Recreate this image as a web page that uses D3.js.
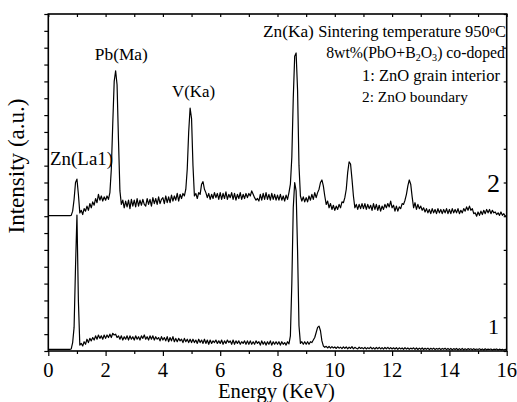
<!DOCTYPE html>
<html>
<head>
<meta charset="utf-8">
<script src="https://cdn.jsdelivr.net/npm/d3@7"></script>
<style>
  body { margin: 0; background: #fff; }
</style>
</head>
<body>
<div class="chart"></div>
<script>
var width = 517, height = 402;
var margin = { left: 48.3, right: 10.3, top: 14, bottom: 51 };
var serif = "'Liberation Serif', 'Times New Roman', Times, serif";

// energy grid of the spectra, 0.05 keV per channel
var energy = d3.range(0, 321).map(function(i) { return +(i * 0.05).toFixed(2); });

// spectrum 2: ZnO boundary (drawn with +8 offset)
var boundary = [
  8.03,8.03,8.03,8.03,8.03,8.03,8.03,8.03,8.03,8.03,8.03,8.03,8.03,8.03,8.03,8.03,8.05,8.3,9.0,10.0,
  10.2,9.3,8.2,8.35,8.1,8.45,8.3,8.6,8.35,8.75,8.5,8.85,8.65,9.05,8.8,9.3,8.95,9.2,8.9,9.15,
  8.95,9.2,9.0,9.4,10.8,13.5,16.0,16.63,15.8,12.5,9.5,8.7,8.95,8.5,8.9,8.55,8.95,8.45,9.0,8.6,
  8.95,8.55,9.05,8.6,8.95,8.65,9.0,8.7,8.6,9.05,8.7,9.0,8.6,9.1,8.75,9.05,8.7,9.15,8.75,9.0,
  9.1,8.75,9.2,8.8,9.15,8.8,9.25,8.9,9.2,8.95,9.35,8.9,9.3,9.05,9.35,9.2,9.6,10.8,13.0,14.42,
  13.8,11.0,9.2,9.35,9.05,9.4,9.3,9.9,10.05,9.6,9.4,9.1,9.35,9.0,9.3,9.05,9.4,9.1,9.35,9.0,
  9.4,9.0,9.35,9.05,9.45,9.0,9.3,9.1,9.4,9.0,9.35,8.95,9.3,9.05,9.4,9.0,9.3,9.05,9.35,9.1,
  9.35,9.2,9.5,9.3,9.1,8.95,9.05,8.9,9.3,8.95,9.35,9.0,9.4,9.0,9.3,8.95,9.35,9.0,9.3,8.95,
  9.25,8.95,9.3,8.95,9.2,8.9,9.25,9.0,9.4,9.9,11.5,15.0,17.5,17.69,15.5,11.0,9.2,8.9,9.15,8.85,
  9.1,8.85,9.2,8.95,9.3,9.0,9.4,9.1,9.4,9.6,10.0,10.15,9.8,9.2,8.7,8.9,8.5,8.75,8.4,8.65,
  8.35,8.6,8.4,8.7,8.5,8.85,8.8,9.1,9.6,10.6,11.23,11.1,10.2,9.2,8.5,8.7,8.4,8.7,8.45,8.75,
  8.45,8.75,8.4,8.7,8.45,8.65,8.35,8.75,8.4,8.7,8.35,8.65,8.3,8.6,8.4,8.7,8.5,8.75,8.55,8.9,
  8.5,8.65,8.3,8.6,8.3,8.55,8.45,8.75,8.7,8.95,9.3,9.8,10.15,9.9,9.15,8.5,8.8,8.4,8.7,8.45,
  8.6,8.35,8.5,8.25,8.45,8.2,8.4,8.15,8.45,8.2,8.4,8.15,8.45,8.2,8.4,8.15,8.4,8.2,8.45,8.15,
  8.4,8.15,8.45,8.2,8.4,8.2,8.45,8.15,8.35,8.2,8.45,8.3,8.55,8.35,8.6,8.35,8.45,8.15,8.2,8.0,
  8.25,8.05,8.3,8.1,8.35,8.15,8.4,8.2,8.4,8.15,8.35,8.2,8.25,8.1,8.2,8.05,8.25,8.05,8.15,8.0,
  8.05
];

// spectrum 1: ZnO grain interior
var interior = [
  0.1,0.1,0.1,0.1,0.1,0.1,0.1,0.1,0.1,0.1,0.1,0.1,0.1,0.1,0.1,0.1,0.12,0.5,1.4,5.0,
  8.07,3.0,0.35,0.45,0.3,0.55,0.4,0.7,0.5,0.75,0.6,0.8,0.65,0.9,0.7,0.95,0.75,0.9,0.7,0.95,
  0.75,0.95,0.8,1.0,0.8,1.05,0.95,1.0,0.8,0.9,0.7,0.9,0.65,0.85,0.7,0.9,0.65,0.9,0.7,0.85,
  0.65,0.9,0.7,0.85,0.65,0.9,0.75,0.95,0.7,0.85,0.65,0.9,0.7,0.9,0.65,0.85,0.7,0.8,0.6,0.85,
  0.65,0.8,0.6,0.85,0.55,0.8,0.6,0.85,0.55,0.75,0.55,0.75,0.6,0.7,0.5,0.75,0.55,0.7,0.5,0.7,
  0.5,0.7,0.5,0.65,0.45,0.7,0.5,0.65,0.45,0.7,0.45,0.65,0.4,0.65,0.45,0.6,0.5,0.65,0.45,0.6,
  0.45,0.65,0.4,0.6,0.45,0.65,0.5,0.6,0.4,0.65,0.4,0.6,0.45,0.6,0.4,0.55,0.45,0.6,0.4,0.6,
  0.4,0.6,0.4,0.55,0.4,0.6,0.45,0.55,0.35,0.6,0.4,0.55,0.35,0.55,0.4,0.6,0.35,0.55,0.4,0.55,
  0.4,0.55,0.35,0.55,0.4,0.5,0.35,0.55,0.42,0.9,4.0,8.5,10.0,9.5,6.0,1.5,0.45,0.55,0.4,0.55,
  0.4,0.55,0.4,0.55,0.5,0.65,0.8,1.1,1.4,1.48,1.2,0.6,0.3,0.22,0.28,0.18,0.27,0.17,0.26,0.18,
  0.24,0.15,0.25,0.17,0.23,0.14,0.25,0.16,0.24,0.13,0.23,0.15,0.26,0.13,0.22,0.16,0.12,0.23,0.15,0.2,
  0.13,0.22,0.12,0.2,0.14,0.23,0.12,0.2,0.11,0.21,0.13,0.22,0.12,0.2,0.11,0.21,0.13,0.22,0.12,0.2,
  0.12,0.19,0.11,0.2,0.1,0.19,0.12,0.18,0.1,0.2,0.11,0.18,0.1,0.17,0.12,0.19,0.1,0.18,0.09,0.17,
  0.1,0.18,0.09,0.16,0.1,0.17,0.08,0.16,0.1,0.17,0.09,0.15,0.1,0.16,0.08,0.15,0.1,0.16,0.08,0.15,
  0.08,0.15,0.07,0.14,0.09,0.15,0.07,0.14,0.08,0.15,0.07,0.13,0.08,0.14,0.09,0.13,0.07,0.14,0.08,0.12,
  0.09,0.13,0.07,0.12,0.06,0.13,0.07,0.11,0.09,0.12,0.06,0.11,0.08,0.12,0.06,0.11,0.07,0.1,0.06,0.1,
  0.06
];

var xTicks = [0, 2, 4, 6, 8, 10, 12, 14, 16];

// peak labels: [text, energy, intensity]
var peakLabels = [
  ["Zn(La1)", 1.16, 11.04],
  ["Pb(Ma)", 2.55, 17.27],
  ["V(Ka)", 5.07, 15.07],
  ["Zn(Ka)", 8.38, 18.63]
];

var svg = d3.select('.chart')
  .append('svg')
  .attr('width', width)
  .attr('height', height)
  .style('font-family', serif);

var x = d3.scaleLinear()
  .domain([0, 16])
  .range([margin.left, width - margin.right]);

var y = d3.scaleLinear()
  .domain([0, 20])
  .range([height - margin.bottom, margin.top]);

function label(sel) {
  return sel.append('text')
    .style('font-family', serif)
    .attr('fill', '#000');
}

// scale a text so it spans the same width as in the original figure
function fit(t, target) {
  var w = t.node().getComputedTextLength();
  if (w > 0) t.attr('font-size', (+t.attr('font-size') * target / w).toFixed(2));
  return t;
}

// AXES (ticks only)
svg.append('g')
  .attr('transform', 'translate(0,' + y(0) + ')')
  .call(d3.axisBottom(x).tickValues(d3.range(1, 16, 2)).tickSize(3).tickFormat(''));

svg.append('g')
  .attr('transform', 'translate(0,' + y(0) + ')')
  .call(d3.axisBottom(x).tickValues(xTicks).tickSize(5).tickFormat(''));

svg.append('g')
  .attr('transform', 'translate(0,' + y(20) + ')')
  .call(d3.axisBottom(x).ticks(16).tickSize(3).tickFormat(''));

svg.append('g')
  .attr('transform', 'translate(' + x(0) + ',0)')
  .call(d3.axisLeft(y).ticks(20).tickSize(4).tickFormat(''));

svg.append('g')
  .attr('transform', 'translate(' + x(16) + ',0)')
  .call(d3.axisLeft(y).ticks(10).tickSize(3).tickFormat(''));

svg.selectAll('.domain').remove();
svg.selectAll('.tick line').attr('stroke', '#000').attr('stroke-width', 1.2);

xTicks.forEach(function(t) {
  var s = label(svg)
    .attr('x', x(t))
    .attr('y', y(0) + 26)
    .attr('text-anchor', 'middle')
    .attr('font-size', 19)
    .text(t);
  fit(s, 10.3 * String(t).length);
});

svg.append('rect')
  .attr('x', x(0))
  .attr('y', y(20))
  .attr('width', x(16) - x(0))
  .attr('height', y(0) - y(20))
  .attr('fill', 'none')
  .attr('stroke', '#000')
  .attr('stroke-width', 1.6);

// SPECTRA
var line = d3.line()
  .x(function(d) { return x(d[0]); })
  .y(function(d) { return y(d[1]); });

[interior, boundary].forEach(function(series) {
  svg.append('path')
    .datum(series.map(function(v, i) { return [energy[i], v]; }))
    .attr('d', line)
    .attr('fill', 'none')
    .attr('stroke', '#000')
    .attr('stroke-width', 1.2)
    .attr('stroke-linejoin', 'round');
});

// LABELS
var peakWidths = [63, 53, 43, 51];
peakLabels.forEach(function(d, i) {
  var s = label(svg)
    .attr('x', x(d[1]))
    .attr('y', y(d[2]))
    .attr('text-anchor', 'middle')
    .attr('font-size', 17.5)
    .text(d[0]);
  fit(s, peakWidths[i]);
});

var t1 = label(svg).attr('x', 506).attr('y', 37).attr('text-anchor', 'end').attr('font-size', 16.5);
t1.append('tspan').text('Sintering temperature 950');
t1.append('tspan').attr('dy', '-0.42em').attr('font-size', '0.64em').text('o');
t1.append('tspan').attr('dy', '0.27em').text('C');
fit(t1, 188);

var t2 = label(svg).attr('x', 505).attr('y', 58).attr('text-anchor', 'end').attr('font-size', 16.5);
t2.append('tspan').text('8wt%(PbO+B');
t2.append('tspan').attr('dy', '0.25em').attr('font-size', '0.64em').text('2');
t2.append('tspan').attr('dy', '-0.16em').text('O');
t2.append('tspan').attr('dy', '0.25em').attr('font-size', '0.64em').text('3');
t2.append('tspan').attr('dy', '-0.16em').text(') co-doped');
fit(t2, 179);

fit(label(svg).attr('x', 362).attr('y', 81).attr('font-size', 16.5).text('1: ZnO grain interior'), 138);
fit(label(svg).attr('x', 362).attr('y', 102).attr('font-size', 16.5).text('2: ZnO boundary'), 106);

fit(label(svg).attr('x', 487).attr('y', 192).attr('font-size', 27).text('2'), 13);
fit(label(svg).attr('x', 488).attr('y', 334).attr('font-size', 27).text('1'), 11);

fit(label(svg)
  .attr('x', 276.5)
  .attr('y', 398)
  .attr('text-anchor', 'middle')
  .attr('font-size', 20)
  .text('Energy (KeV)'), 117);

fit(label(svg)
  .attr('transform', 'translate(24,166) rotate(-90)')
  .attr('text-anchor', 'middle')
  .attr('font-size', 22)
  .text('Intensity (a.u.)'), 135);
</script>
</body>
</html>
